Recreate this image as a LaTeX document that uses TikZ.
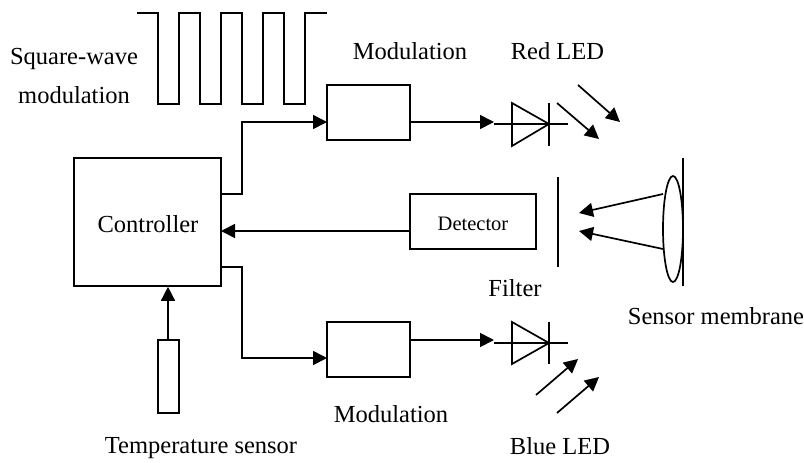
\documentclass[tikz,border=0pt]{standalone}
\usepackage{fontspec}
\setmainfont{Liberation Serif}
\usetikzlibrary{arrows.meta,shapes.geometric}
\tikzset{
  wire/.style={line width=1.7pt,black},
  arr/.style={wire,-{Triangle[length=14pt,width=14pt]}},
  boxn/.style={draw,line width=1.7pt,inner sep=0pt,minimum width=#1},
  lab/.style={font=\fontsize{24.5}{28}\selectfont,inner sep=0pt,align=center},
}
\begin{document}
\begin{tikzpicture}[x=1pt,y=-1pt]
\useasboundingbox (0,0) rectangle (804,463);
% boxes
\node[boxn=147pt,minimum height=128pt] (ctrl) at (147.5,222) {};
\node[lab] (ctrlT) at (148,224) {Controller};
\node[boxn=83pt,minimum height=55pt] (modA) at (368.5,112.5) {};
\node[boxn=83pt,minimum height=55pt] (modB) at (368.5,349.5) {};
\node[boxn=126pt,minimum height=55pt] (det) at (473,221.5) {};
\node[font=\fontsize{20.5}{24}\selectfont,inner sep=0pt] (detT) at (473,224) {Detector};
\node[boxn=21pt,minimum height=73pt] (temp) at (168.5,376.5) {};
% square wave
\draw[wire,line join=miter] (137,13) -| (158,104) -| (179,13) -| (200,104) -| (221,13) -| (242,104) -| (263,13) -| (284,104) -| (305,13) -- (327,13);
% controller connectors
\coordinate (c1) at (221,194);
\coordinate (c2) at (221,267);
\coordinate (e1) at (327,122);
\coordinate (e2) at (327,358);
\draw[arr] (c1) -- (242,194) |- (e1);
\draw[arr] (c2) -- (242,267) |- (e2);
\coordinate (dw) at (410,231);
\coordinate (cw) at (221,231);
\draw[arr] (dw) -- (cw);
\coordinate (tT) at (168,340);
\draw[arr] (tT) -- (tT |- ctrl.south);
% LED red
\coordinate (rIn) at (494,122);
\coordinate (rOut) at (410,122);
\draw[arr] (rOut) -- (rIn);
\coordinate (rA) at (494,124);
\coordinate (rB) at (568,124);
\draw[wire] (rA) -- (rB);
\draw[wire,line join=miter] (512,103) -- (512,146) -- (549,124) -- cycle;
\draw[wire] (549,103) -- (549,146);
\coordinate (r1s) at (557,103); \coordinate (r1e) at (599,139);
\coordinate (r2s) at (578,85); \coordinate (r2e) at (620,122);
\draw[arr] (r1s) -- (r1e);
\draw[arr] (r2s) -- (r2e);
% LED blue
\coordinate (bIn) at (494,340);
\coordinate (bOut) at (410,340);
\draw[arr] (bOut) -- (bIn);
\coordinate (bA) at (494,343);
\coordinate (bB) at (568,343);
\draw[wire] (bA) -- (bB);
\draw[wire,line join=miter] (512,322) -- (512,364) -- (549,343) -- cycle;
\draw[wire] (549,322) -- (549,364);
\coordinate (b1s) at (536,395); \coordinate (b1e) at (578,359);
\coordinate (b2s) at (557,413); \coordinate (b2e) at (599,377);
\draw[arr] (b1s) -- (b1e);
\draw[arr] (b2s) -- (b2e);
% filter and membrane
\coordinate (fT) at (558,177); \coordinate (fB) at (558,267);
\draw[wire] (fT) -- (fB);
\node[draw,line width=1.7pt,ellipse,inner sep=0pt,minimum width=20pt,minimum height=106pt] (mem) at (673,229) {};
\coordinate (mT) at (683,158); \coordinate (mB) at (683,286);
\draw[wire] (mT) -- (mB);
\coordinate (m1) at (663,194); \coordinate (m2) at (663,249);
\coordinate (a1) at (579,213); \coordinate (a2) at (579,231);
\draw[arr] (m1) -- (a1);
\draw[arr] (m2) -- (a2);
% labels
\node[lab] (t1a) at (74,59) {Square-wave};
\node[lab] (t1b) at (74,95) {modulation};
\node[lab] (t2) at (410,51) {Modulation};
\node[lab] (t3) at (557.5,51) {Red LED};
\node[lab] (t4) at (515,288) {Filter};
\node[lab] (t5) at (716,316) {Sensor membrane};
\node[lab] (t6) at (391,414) {Modulation};
\node[lab] (t7) at (201,448) {Temperature sensor};
\node[lab] (t8) at (560,446) {Blue LED};
\end{tikzpicture}
\end{document}
